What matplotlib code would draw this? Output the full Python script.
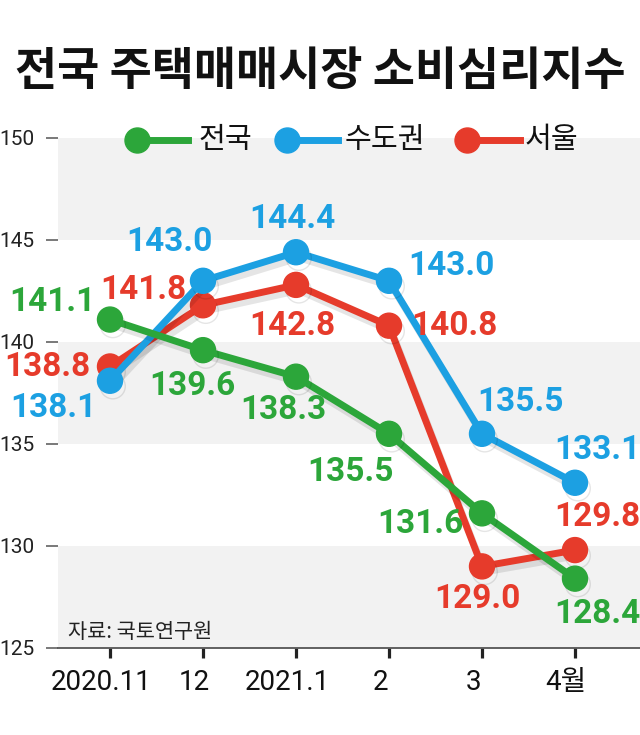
import matplotlib
matplotlib.use('Agg')
import matplotlib.pyplot as plt
import matplotlib.patheffects as pe
import matplotlib.transforms as mtransforms

# data
months = ['2020.11', '12', '2021.1', '2', '3', '4월']
nation = [141.1, 139.6, 138.3, 135.5, 131.6, 128.4]   # 전국
capital = [138.1, 143.0, 144.4, 143.0, 135.5, 133.1]  # 수도권
seoul = [138.8, 141.8, 142.8, 140.8, 129.0, 129.8]    # 서울
y_ticks = [125, 130, 135, 140, 145, 150]
series_names = ['전국', '수도권', '서울']

KR = ['Noto Sans CJK KR', 'DejaVu Sans']
NUM = ['Roboto', 'Noto Sans CJK KR', 'DejaVu Sans']

GREEN = '#2ca63a'
BLUE = '#1ca0e2'
RED = '#e63b2b'
BAND = '#f2f2f2'

W, H = 640, 735
fig = plt.figure(figsize=(W / 100, H / 100), dpi=100)
fig.patch.set_facecolor('white')

# axes: left edge 58px, right 640px, y=125 at 648px, y=150 at 138px
ax = fig.add_axes([58 / W, (H - 648) / H, 582 / W, 510 / H])
x = list(range(len(months)))
ax.set_xlim(-52 / 93, 5 + 65 / 93)
ax.set_ylim(125, 150)

# alternating background bands
for lo in (125, 135, 145):
    ax.axhspan(lo, lo + 5, color=BAND, lw=0, zorder=0)

shadow = [pe.SimpleLineShadow(offset=(2, -4), shadow_color='k', alpha=0.10),
          pe.Normal()]

# label offsets in pixels (dx, dy) from each point
series = [
    (seoul, RED, 2, [(-63, -1), (-60, 15), (-4, -41), (65, 0), (-5, -33), (22, 33)]),
    (capital, BLUE, 3, [(-57, -27), (-34, 39), (-4, 33), (62, 15), (39, 32), (22, 33)]),
    (nation, GREEN, 4, [(-58, 18), (-11, -36), (-13, -33), (-39, -38), (-62, -11), (22, -35)]),
]

for vals, color, z, offs in series:
    ax.plot(x, vals, color=color, lw=5, marker='o', ms=18, zorder=z,
            solid_capstyle='round', path_effects=shadow, clip_on=False)
    for xi, v, (dx, dy) in zip(x, vals, offs):
        ax.annotate(f'{v:.1f}', (xi, v), xytext=(dx, dy), textcoords='offset pixels',
                    ha='center', va='center', fontsize=24, fontweight='bold',
                    color=color, family=NUM, zorder=10)

# axes styling
for side in ('left', 'right', 'top'):
    ax.spines[side].set_visible(False)
ax.spines['bottom'].set_color('#555555')
ax.spines['bottom'].set_linewidth(1.3)

ax.set_yticks(y_ticks)
ax.set_yticklabels([str(t) for t in y_ticks], family=NUM, fontsize=15, color='#222222')
ax.tick_params(axis='y', length=9, width=1.1, color='#555555', pad=8)

ax.set_xticks(x)
ax.set_xticklabels(months, family=NUM, fontsize=20, color='#111111')
ax.tick_params(axis='x', length=7, width=2.3, color='#222222', pad=8)
shift = mtransforms.ScaledTranslation(-9 / 100, 0, fig.dpi_scale_trans)
for lab in ax.get_xticklabels():
    lab.set_transform(lab.get_transform() + shift)

# title
fig.text(0.5, 1 - 72 / H, '전국 주택매매시장 소비심리지수', ha='center', va='center',
         fontsize=33, fontweight='bold', family=KR, color='#111111')

# legend drawn by hand: marker at left end of a short line, then the name
legend_y = 1 - 140 / H
legend_pos = [(137, 188, 198), (287, 338, 345), (467, 520, 525)]
for name, (_, color, _, _), (mx, lx, tx) in zip(series_names, series[::-1], legend_pos):
    fig.add_artist(plt.Line2D([mx / W, lx / W], [legend_y, legend_y], color=color, lw=5,
                              transform=fig.transFigure))
    fig.add_artist(plt.Line2D([mx / W], [legend_y], color=color, marker='o', ms=18,
                              transform=fig.transFigure))
    fig.text(tx / W, legend_y, name, ha='left', va='center', fontsize=21,
             family=KR, color='#111111')

# source note
fig.text(68 / W, 1 - 632 / H, '자료: 국토연구원', ha='left', va='center', fontsize=15,
         family=KR, color='#222222')

fig.savefig('out.png', dpi=100)
